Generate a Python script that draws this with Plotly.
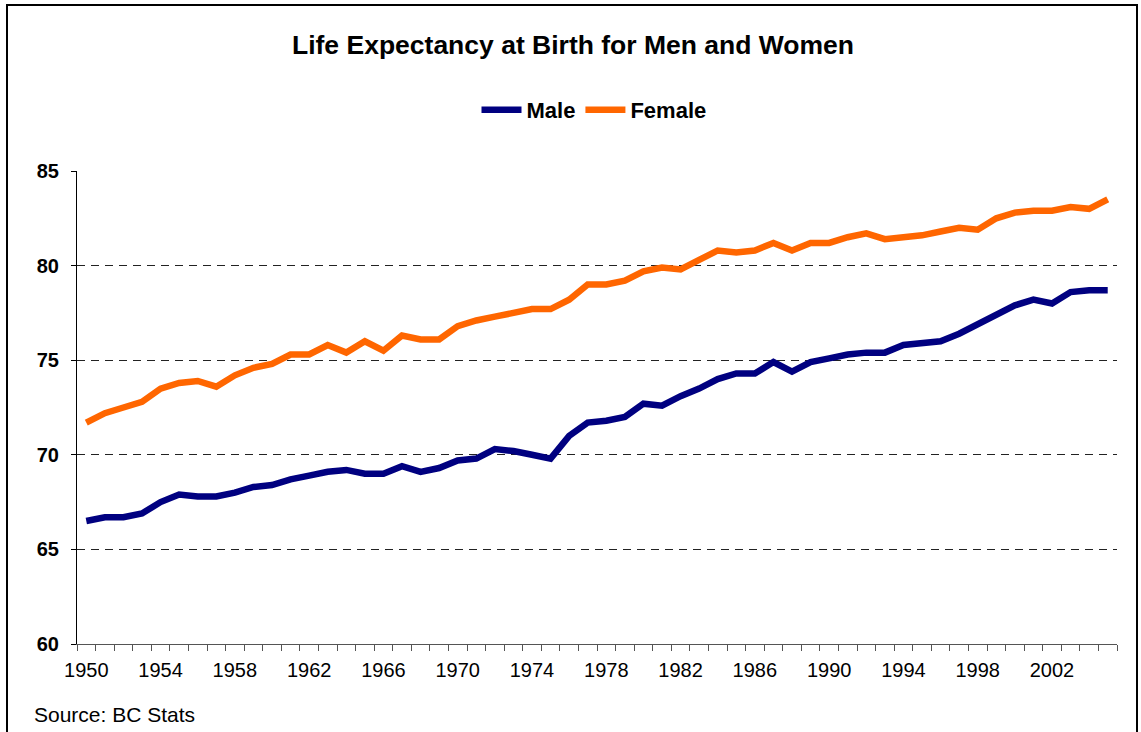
import plotly.graph_objects as go

years = list(range(1950, 2006))
male = [66.5, 66.7, 66.7, 66.9, 67.5, 67.9, 67.8, 67.8, 68.0, 68.3,
        68.4, 68.7, 68.9, 69.1, 69.2, 69.0, 69.0, 69.4, 69.1, 69.3,
        69.7, 69.8, 70.3, 70.2, 70.0, 69.8, 71.0, 71.7, 71.8, 72.0,
        72.7, 72.6, 73.1, 73.5, 74.0, 74.3, 74.3, 74.9, 74.4, 74.9,
        75.1, 75.3, 75.4, 75.4, 75.8, 75.9, 76.0, 76.4, 76.9, 77.4,
        77.9, 78.2, 78.0, 78.6, 78.7, 78.7]
female = [71.7, 72.2, 72.5, 72.8, 73.5, 73.8, 73.9, 73.6, 74.2, 74.6,
          74.8, 75.3, 75.3, 75.8, 75.4, 76.0, 75.5, 76.3, 76.1, 76.1,
          76.8, 77.1, 77.3, 77.5, 77.7, 77.7, 78.2, 79.0, 79.0, 79.2,
          79.7, 79.9, 79.8, 80.3, 80.8, 80.7, 80.8, 81.2, 80.8, 81.2,
          81.2, 81.5, 81.7, 81.4, 81.5, 81.6, 81.8, 82.0, 81.9, 82.5,
          82.8, 82.9, 82.9, 83.1, 83.0, 83.5]
x_labels = [1950, 1954, 1958, 1962, 1966, 1970, 1974, 1978, 1982, 1986, 1990, 1994, 1998, 2002]
y_ticks = [60, 65, 70, 75, 80, 85]

FONT = "Liberation Sans, Arial, sans-serif"
W, H = 1141, 732
# plot area in page pixel coordinates
PX0, PX1, PY0, PY1 = 77, 1117, 171, 644
L, R, T, B = PX0, W - PX1, PY0, H - PY1
pw, ph = W - L - R, H - T - B

def px2paper_x(px):
    return (px - PX0) / pw

def px2paper_y(py):
    return (PY1 - py) / ph

fig = go.Figure()
fig.add_trace(go.Scatter(x=years, y=male, mode="lines", name="<b>Male</b>",
                         line=dict(color="#000080", width=6.5)))
fig.add_trace(go.Scatter(x=years, y=female, mode="lines", name="<b>Female</b>",
                         line=dict(color="#FF6600", width=6.5)))

fig.update_layout(
    width=W, height=H, autosize=False,
    margin=dict(l=L, r=R, t=T, b=B, pad=0),
    paper_bgcolor="white", plot_bgcolor="white",
    font=dict(family=FONT, color="black"),
    title=dict(text="<b>Life Expectancy at Birth for Men and Women</b>",
               font=dict(family=FONT, size=26.5, color="black"),
               x=573 / W, xanchor="center", xref="container",
               y=1 - 45 / H, yanchor="middle", yref="container"),
    showlegend=True,
    legend=dict(orientation="h", x=px2paper_x(594), xanchor="center",
                y=px2paper_y(110), yanchor="middle",
                font=dict(family=FONT, size=22, color="black"),
                bgcolor="rgba(0,0,0,0)", itemwidth=40, tracegroupgap=0),
    xaxis=dict(range=[1949.5, 2005.5], tickmode="array", tickvals=x_labels,
               ticktext=[str(v) for v in x_labels], ticks="",
               tickfont=dict(family=FONT, size=20, color="black"),
               ticklabelstandoff=8,
               showgrid=False, zeroline=False,
               showline=True, linecolor="#555555", linewidth=1,
               minor=dict(tick0=1949.5, dtick=1, ticks="outside", ticklen=6,
                          tickcolor="#555555", tickwidth=1, showgrid=False)),
    yaxis=dict(range=[60, 85], tickmode="array", tickvals=y_ticks,
               ticktext=["<b>%d</b>" % v for v in y_ticks],
               ticks="outside", ticklen=5, tickcolor="black", tickwidth=1,
               tickfont=dict(family=FONT, size=20, color="black"),
               ticklabelstandoff=8,
               showgrid=True, gridcolor="#222222", gridwidth=1, griddash="8px,6px",
               zeroline=False, showline=True, linecolor="black", linewidth=1),
)

# outer chart frame
fig.add_shape(type="rect", xref="paper", yref="paper",
              x0=px2paper_x(7), x1=px2paper_x(1137), y0=px2paper_y(760), y1=px2paper_y(5),
              line=dict(color="black", width=2), fillcolor="rgba(0,0,0,0)", layer="above")

fig.add_annotation(text="Source: BC Stats", xref="paper", yref="paper",
                   x=px2paper_x(32), y=px2paper_y(714), xanchor="left", yanchor="middle",
                   showarrow=False, font=dict(family=FONT, size=21, color="black"))

fig.write_html("out.html",
               config={"displayModeBar": False},
               post_script="document.body.style.margin='0';document.body.style.overflow='hidden';")
